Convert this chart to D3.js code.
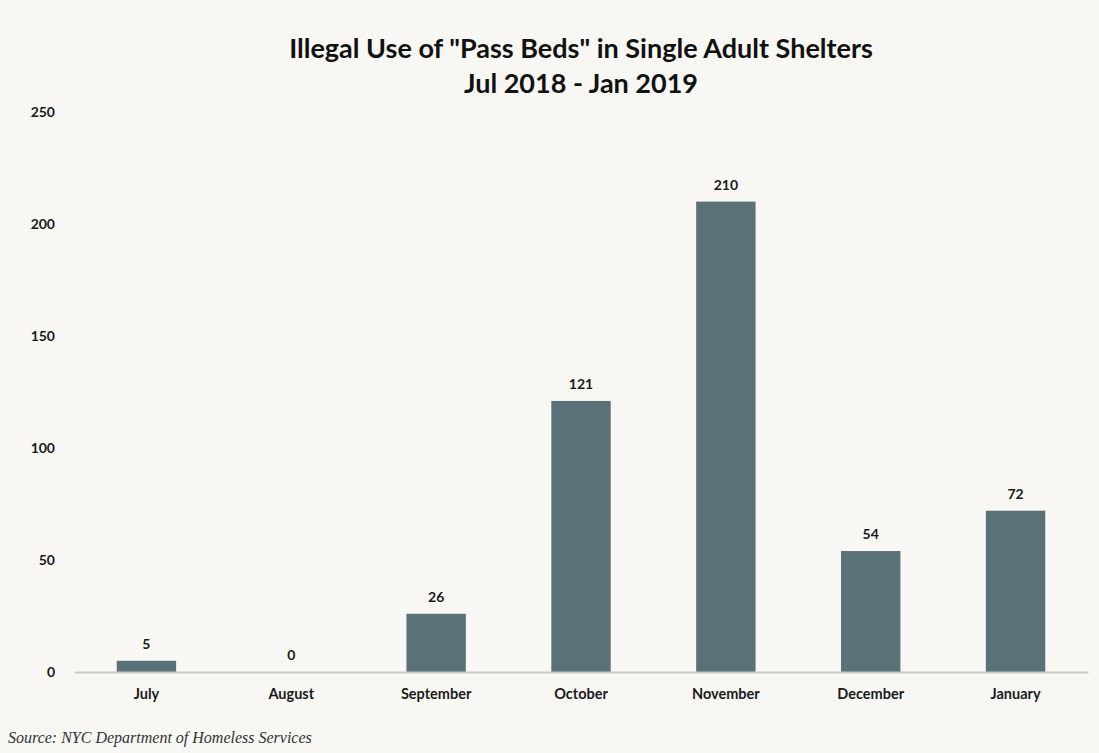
<!DOCTYPE html>
<html>
<head>
<meta charset="utf-8">
<script src="https://cdn.jsdelivr.net/npm/d3@7"></script>
<style>
  body { margin: 0; background: #f8f7f3; }
  svg { display: block; }
</style>
</head>
<body>
<div id="chart"></div>
<script>
// Monthly counts, Jul 2018 - Jan 2019
const months = ['July', 'August', 'September', 'October', 'November', 'December', 'January'];
const counts = [5, 0, 26, 121, 210, 54, 72];
const yTicks = [0, 50, 100, 150, 200, 250];

const width = 1099, height = 753;
const margin = {top: 112, right: 11, bottom: 81, left: 74};
const font = 'Lato, "Open Sans", sans-serif';

const svg = d3.select('#chart')
    .append('svg')
    .attr('width', width)
    .attr('height', height)
    .style('background', '#f8f7f3');

const x = d3.scaleBand()
    .domain(months)
    .range([margin.left, width - margin.right])
    .paddingInner(0.59)
    .paddingOuter(0.295);

const y = d3.scaleLinear()
    .domain([0, 250])
    .range([height - margin.bottom, margin.top]);

// title
svg.append('text')
    .attr('x', (margin.left + width - margin.right) / 2)
    .attr('y', 58)
    .attr('text-anchor', 'middle')
    .style('font-family', font)
    .style('font-weight', 700)
    .style('font-size', '27px')
    .attr('fill', '#111')
    .text('Illegal Use of "Pass Beds" in Single Adult Shelters');

svg.append('text')
    .attr('x', (margin.left + width - margin.right) / 2)
    .attr('y', 93)
    .attr('text-anchor', 'middle')
    .style('font-family', font)
    .style('font-weight', 700)
    .style('font-size', '27px')
    .attr('fill', '#111')
    .text('Jul 2018 - Jan 2019');

// y axis labels, no line
const yAxis = svg.append('g')
    .attr('transform', `translate(${margin.left - 19},0)`)
    .call(d3.axisLeft(y).tickValues(yTicks).tickSize(0).tickPadding(0));
yAxis.select('.domain').remove();
yAxis.selectAll('text')
    .style('font-family', font)
    .style('font-weight', 700)
    .style('font-size', '14px')
    .attr('fill', '#1a1a1a');

// bars
svg.selectAll('rect.bar')
    .data(counts)
    .join('rect')
    .attr('class', 'bar')
    .attr('x', (d, i) => x(months[i]))
    .attr('y', d => y(d))
    .attr('width', x.bandwidth())
    .attr('height', d => y(0) - y(d))
    .attr('fill', '#5a7178');

// value labels
svg.selectAll('text.val')
    .data(counts)
    .join('text')
    .attr('class', 'val')
    .attr('x', (d, i) => x(months[i]) + x.bandwidth() / 2)
    .attr('y', d => y(d) - 12)
    .attr('text-anchor', 'middle')
    .style('font-family', font)
    .style('font-weight', 700)
    .style('font-size', '14px')
    .attr('fill', '#1a1a1a')
    .text(d => d);

// x axis
const xAxis = svg.append('g')
    .attr('transform', `translate(0,${y(0)})`)
    .call(d3.axisBottom(x).tickSize(0).tickPadding(17));
xAxis.select('.domain')
    .attr('stroke', '#c9c9c7')
    .attr('stroke-width', 2);
xAxis.selectAll('text')
    .style('font-family', font)
    .style('font-weight', 700)
    .style('font-size', '14.5px')
    .attr('fill', '#1a1a1a');

// source
svg.append('text')
    .attr('x', 8)
    .attr('y', 743)
    .style('font-family', '"Liberation Serif", "DejaVu Serif", serif')
    .style('font-style', 'italic')
    .style('font-size', '16px')
    .attr('fill', '#333')
    .text('Source: NYC Department of Homeless Services');
</script>
</body>
</html>
